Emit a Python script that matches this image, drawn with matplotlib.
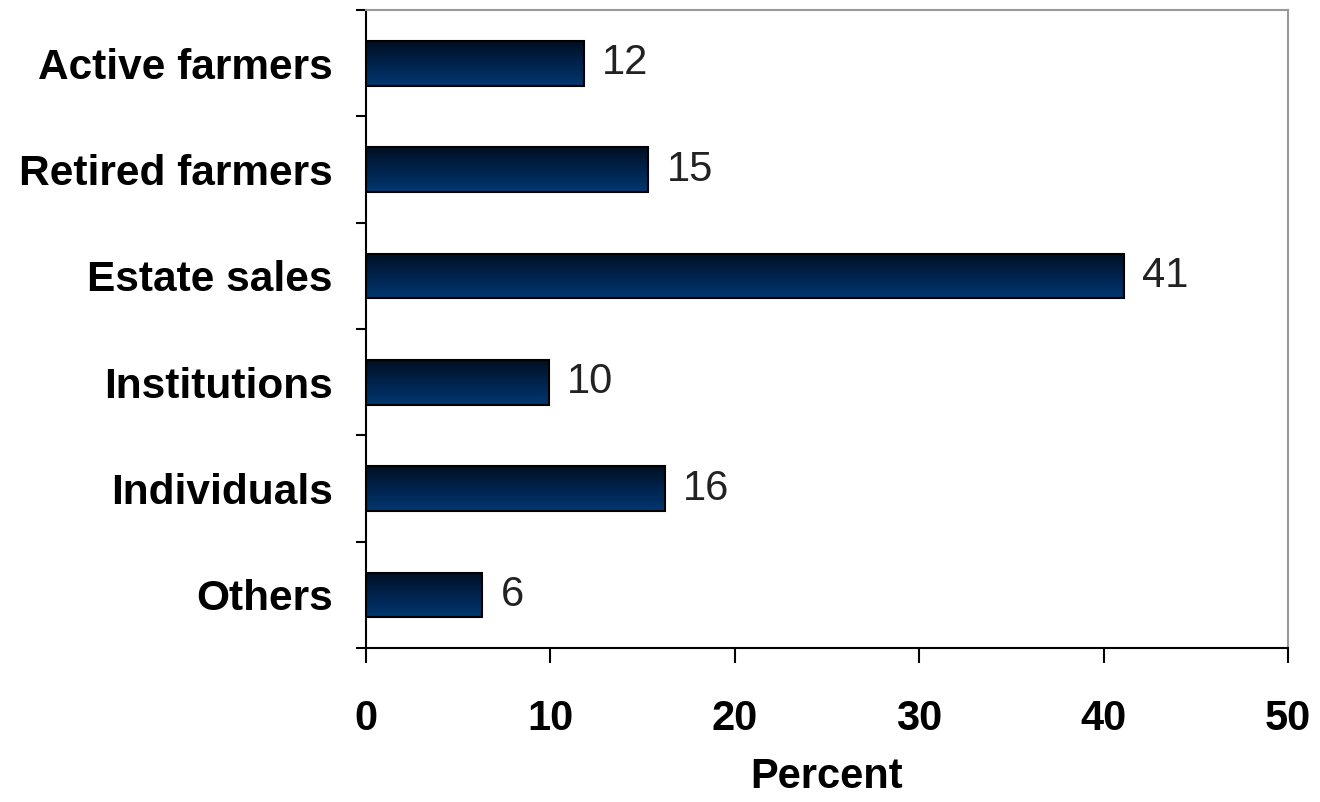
import numpy as np
import matplotlib
matplotlib.use("Agg")
import matplotlib.pyplot as plt
from matplotlib.colors import LinearSegmentedColormap

categories = ["Active farmers", "Retired farmers", "Estate sales",
              "Institutions", "Individuals", "Others"]
values = [11.8, 15.3, 41.1, 9.9, 16.2, 6.3]
value_labels = ["12", "15", "41", "10", "16", "6"]
xticks = [0, 10, 20, 30, 40, 50]

plt.rcParams['font.family'] = ['Liberation Sans', 'DejaVu Sans']

fig = plt.figure(figsize=(13.2, 8.02), dpi=100)
ax = fig.add_axes([0.2773, 0.192, 0.6985, 0.7955])

y = np.arange(len(categories))[::-1]
h = 0.42
bars = ax.barh(y, values, height=h, color='none', edgecolor='black', linewidth=1.5, zorder=3)

# vertical gradient dark (top) -> blue (bottom)
cmap = LinearSegmentedColormap.from_list("g", ["#00376f", "#00234d", "#000f22"])
grad = np.linspace(0, 1, 64).reshape(-1, 1)
for b, yy, v in zip(bars, y, values):
    im = ax.imshow(grad, extent=[0, v, yy - h / 2, yy + h / 2], aspect='auto',
                   cmap=cmap, origin='lower', zorder=2)
    im.set_clip_path(b)

for yy, v, lab in zip(y, values, value_labels):
    ax.text(v + 1.0, yy, lab, va='center', ha='left', fontsize=30, color='#222222')

ax.set_xlim(0, 50)
ax.set_ylim(-0.5, len(categories) - 0.5)
ax.set_xticks(xticks)
ax.set_xticklabels([str(t) for t in xticks], fontsize=30, fontweight='bold')
ax.set_yticks(y)
ax.set_yticklabels(categories, fontsize=30.5, fontweight='bold')
ax.set_yticks(np.arange(-0.5, len(categories), 1.0), minor=True)
ax.tick_params(axis='y', which='major', length=0, pad=24)
ax.tick_params(axis='y', which='minor', length=7, width=1.5, direction='out')
ax.tick_params(axis='x', length=11, width=1.5, direction='out', pad=26)
ax.set_xlabel("Percent", fontsize=30, fontweight='bold', labelpad=13)

for s in ['left', 'bottom']:
    ax.spines[s].set_linewidth(1.5)
    ax.spines[s].set_color('black')
for s in ['top', 'right']:
    ax.spines[s].set_linewidth(1.5)
    ax.spines[s].set_color('#999999')

fig.savefig("out.png", dpi=100)
